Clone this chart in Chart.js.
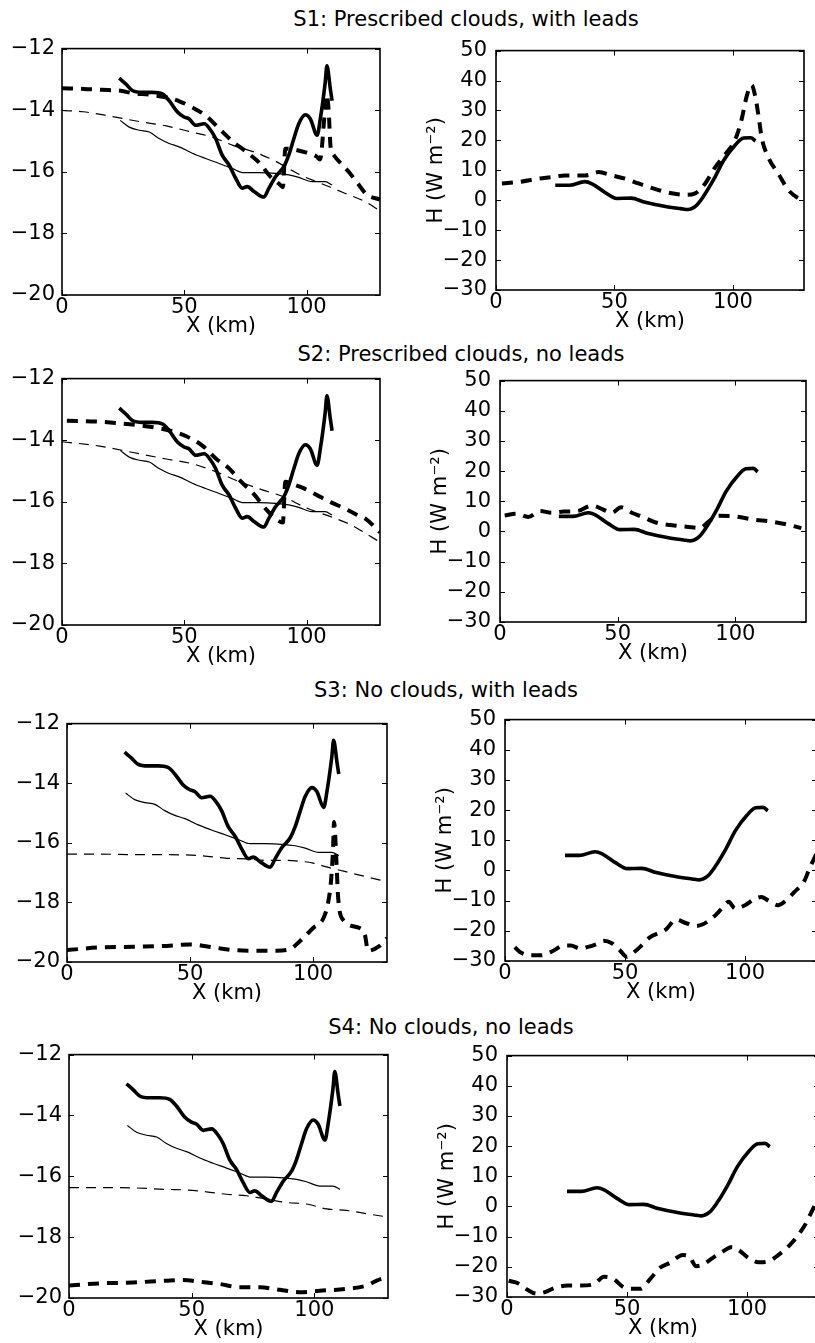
<!DOCTYPE html>
<html>
<head>
<meta charset="utf-8">
<script src="https://cdn.jsdelivr.net/npm/chart.js@4/dist/chart.umd.min.js"></script>
<style>
html,body{margin:0;padding:0;background:#fff;width:815px;height:1343px;overflow:hidden;position:relative;}
canvas{position:absolute;}
.rowtitle{position:absolute;font-family:"DejaVu Sans",sans-serif;font-size:21px;line-height:21px;color:#000;white-space:nowrap;transform:translateX(-50%);}
</style>
</head>
<body>
<div class="rowtitle" style="left:466px;top:9px">S1: Prescribed clouds, with leads</div>
<div class="rowtitle" style="left:461px;top:344px">S2: Prescribed clouds, no leads</div>
<div class="rowtitle" style="left:446px;top:680px">S3: No clouds, with leads</div>
<div class="rowtitle" style="left:451px;top:1017px">S4: No clouds, no leads</div>
<script>
// ---------- tick labels ----------
const xTicks = [0, 50, 100];
const tTicks = [-20, -18, -16, -14, -12];
const hTicks = [-30, -20, -10, 0, 10, 20, 30, 40, 50];

// ---------- temperature panels (left) ----------
// observed (thick solid), same in all scenarios
const obsTx = [23.4, 26.1, 28.8, 32.9, 37.0, 41.0, 43.8, 47.2, 49.9, 51.9, 54.7, 58.1, 60.8, 62.8, 65.5, 68.3, 71.0, 73.7, 75.7, 78.5, 82.5, 84.6, 87.3, 90.7, 92.7, 94.8, 96.8, 99.5, 101.5, 104.3, 105.6, 107.6, 108.3, 109.7, 110.4];
const obsT  = [-12.96, -13.15, -13.36, -13.42, -13.42, -13.47, -13.69, -14.06, -14.22, -14.28, -14.49, -14.44, -14.65, -14.92, -15.46, -15.78, -16.21, -16.53, -16.48, -16.64, -16.82, -16.53, -16.16, -15.83, -15.46, -14.92, -14.44, -14.15, -14.28, -14.81, -14.28, -13.10, -12.56, -13.31, -13.69];
// thin solid, same in all scenarios
const refTx = [23.8, 27.5, 31.6, 35.7, 39.7, 43.8, 47.9, 53.3, 58.7, 64.2, 69.6, 74.3, 80.4, 87.3, 92.7, 96.8, 102.2, 107.6, 110.4];
const refT  = [-14.33, -14.55, -14.65, -14.71, -14.92, -15.08, -15.19, -15.40, -15.57, -15.73, -15.89, -16.03, -16.03, -16.05, -16.10, -16.18, -16.32, -16.32, -16.43];

// S1 thick dashed / thin dashed
const s1Tx = [0, 9, 16, 24, 29, 36, 43, 48, 53.5, 59, 64.4, 70, 75.3, 80.8, 85, 89, 90.3, 91.3, 95, 100, 104, 105.5, 107.3, 108.2, 109, 109.8, 111, 117.6, 121.7, 124.4, 130];
const s1T  = [-13.29, -13.31, -13.34, -13.37, -13.45, -13.5, -13.59, -13.71, -13.92, -14.19, -14.61, -15.03, -15.35, -15.72, -16.14, -16.41, -16.5, -15.25, -15.28, -15.38, -15.5, -15.6, -14.2, -13.5, -14.0, -15.2, -15.45, -16.04, -16.46, -16.73, -16.9];
const s1T2x = [0, 8.6, 19.5, 31.7, 42.6, 53.5, 61.7, 69.9, 79.4, 87.6, 97.1, 105.3, 114.9, 124.4, 130];
const s1T2  = [-14.01, -14.05, -14.19, -14.37, -14.51, -14.72, -14.88, -15.14, -15.38, -15.67, -16.09, -16.36, -16.67, -16.99, -17.27];

// S2
const s2Tx = [2, 15.4, 23.6, 31.7, 42.6, 50.8, 57.6, 63.1, 68.5, 72.6, 78.1, 83.5, 87.6, 90.3, 91.3, 95, 98.5, 104.6, 110, 115.6, 120.3, 124.4, 130];
const s2T  = [-13.37, -13.40, -13.45, -13.52, -13.66, -13.87, -14.19, -14.61, -14.93, -15.30, -15.72, -16.25, -16.57, -16.67, -15.35, -15.45, -15.55, -15.8, -16.02, -16.22, -16.41, -16.57, -16.99];
const s2T2x = [0, 15.4, 29, 42.6, 53.5, 63.1, 72.6, 82.2, 90.3, 99.9, 110.8, 118.9, 124.4, 130];
const s2T2  = [-14.05, -14.19, -14.40, -14.61, -14.77, -15.03, -15.35, -15.62, -15.83, -16.2, -16.51, -16.78, -17.04, -17.31];

// S3
const s3Tx = [0, 13.5, 27.0, 40.5, 50.0, 59.5, 67.6, 75.7, 85.1, 90.5, 94.6, 100.0, 104.1, 106.1, 107.4, 108.1, 108.5, 109.5, 110.1, 112.2, 118.9, 121.0, 122.3, 127.0, 130];
const s3T  = [-19.6, -19.51, -19.49, -19.46, -19.41, -19.51, -19.6, -19.62, -19.62, -19.57, -19.3, -18.86, -18.54, -18.0, -17.14, -16.16, -15.3, -16.7, -17.78, -18.59, -18.86, -19.08, -19.62, -19.46, -19.2];
const s3T2x = [0, 13.5, 27.0, 40.5, 54.1, 64.9, 73.0, 81.1, 89.2, 94.6, 100.0, 105.4, 110.8, 116.2, 121.6, 130];
const s3T2  = [-16.38, -16.38, -16.40, -16.40, -16.43, -16.52, -16.54, -16.59, -16.59, -16.62, -16.68, -16.81, -16.92, -17.03, -17.14, -17.31];

// S4
const s4Tx = [0, 12.5, 26.1, 39.7, 46.5, 53.3, 61.4, 69.6, 77.8, 85.9, 94.1, 102.2, 113.1, 121.3, 125.4, 130];
const s4T  = [-19.59, -19.52, -19.49, -19.43, -19.41, -19.47, -19.54, -19.65, -19.65, -19.73, -19.81, -19.76, -19.70, -19.59, -19.43, -19.3];
const s4T2x = [0, 12.5, 26.1, 39.7, 47.9, 56.0, 64.2, 72.4, 80.5, 88.6, 96.8, 104.9, 113.1, 121.3, 130];
const s4T2  = [-16.37, -16.37, -16.38, -16.43, -16.45, -16.51, -16.59, -16.64, -16.75, -16.86, -16.91, -17.07, -17.12, -17.23, -17.34];

// ---------- heat flux panels (right) ----------
const obsHx = [25, 31, 37.5, 40.5, 46, 51, 57, 63, 71, 78, 81, 84.5, 87.5, 92, 96, 100.8, 104.5, 107.5, 109.5];
const obsH  = [5.0, 5.0, 6.2, 5.5, 2.6, 0.6, 0.7, -0.7, -2.0, -2.8, -3.1, -1.8, 1.2, 7.1, 13.2, 18.3, 20.8, 20.9, 19.8];

const s1Hx = [2.5, 9.6, 18.0, 23.6, 29.2, 37.7, 43.3, 48.9, 54.5, 60.2, 68.6, 74.2, 79.8, 84.0, 88.3, 92.5, 96.7, 100.9, 103.7, 105.8, 107.9, 109.3, 110.8, 112.2, 115.0, 119.2, 123.4, 127.6, 129.7];
const s1H  = [5.6, 6.1, 7.2, 7.7, 8.3, 8.3, 9.4, 8.3, 7.2, 5.6, 3.4, 2.3, 1.8, 2.3, 5.6, 11.0, 15.3, 20.1, 27.1, 34.7, 38.5, 35.2, 28.2, 20.7, 14.2, 8.8, 3.4, 0.7, 0.2];
const s2Hx = [2, 7, 12, 17, 22, 27, 33, 39, 44, 47.5, 51.5, 56, 60, 67, 74, 80, 85, 89, 93, 100, 108, 115, 122, 128];
const s2H  = [5.3, 5.9, 4.8, 6.8, 6.2, 6.6, 6.8, 8.6, 7.2, 6.2, 8.0, 6.2, 5.0, 2.8, 2.0, 1.5, 1.2, 3.5, 5.2, 5.0, 3.9, 3.3, 2.3, 1.1];
const s3Hx = [4.1, 6.2, 11.0, 15.1, 19.2, 24.7, 27.4, 31.5, 34.2, 38.4, 41.1, 44.5, 47.9, 50.7, 53.4, 56.2, 60.3, 64.4, 67.1, 71.2, 75.3, 79.5, 82.2, 86.3, 90.4, 93.2, 95.9, 100.0, 104.1, 106.8, 109.6, 113.7, 116.4, 120.5, 124.7, 126.7, 130];
const s3H  = [-25.4, -27.0, -28.1, -28.1, -27.0, -24.9, -24.9, -25.9, -25.4, -24.3, -23.3, -24.1, -26.5, -28.6, -27.3, -25.4, -22.2, -20.6, -19.5, -16.3, -17.4, -18.4, -17.9, -15.8, -12.6, -10.4, -12.6, -11.5, -9.4, -8.8, -9.9, -11.5, -10.4, -7.2, -3.5, 0.3, 6];
const s4Hx = [0.7, 4.8, 8.9, 12.3, 15.8, 19.9, 25.3, 30.8, 36.3, 40.4, 44.5, 48.6, 52.7, 55.5, 59.6, 63.7, 67.8, 73.3, 76.0, 78.8, 81.5, 85.6, 89.7, 93.8, 96.6, 100.7, 104.8, 108.9, 113.0, 117.1, 121.2, 124.7, 126.7, 130];
const s4H  = [-24.6, -25.5, -27.8, -28.9, -28.4, -27.0, -26.2, -26.2, -25.7, -23.3, -24.1, -26.8, -27.3, -27.3, -24.1, -20.3, -18.7, -16.1, -16.6, -19.8, -19.3, -17.1, -15.0, -13.4, -14.5, -17.1, -18.5, -18.2, -16.1, -13.4, -9.6, -5.4, -2.1, 3];

// ---------- layout (plot frame rectangles, px) ----------
const layoutBoxes = [
  {kind:'T', l:62,  t:43,   r:380, b:295},
  {kind:'H', l:496, t:43,   r:804, b:290},
  {kind:'T', l:62,  t:373,  r:380, b:625},
  {kind:'H', l:500, t:373,  r:806, b:622},
  {kind:'T', l:67,  t:718,  r:387, b:962},
  {kind:'H', l:505, t:712,  r:817, b:961},
  {kind:'T', l:69,  t:1049, r:388, b:1298},
  {kind:'H', l:507, t:1048, r:819, b:1297}
];

const FONT = {family:'"DejaVu Sans", sans-serif', size:21, lineHeight:1.2};
Chart.defaults.font.family = FONT.family;
Chart.defaults.color = '#000';

const pts = (xs, ys) => xs.map((x, i) => ({x: x, y: ys[i]}));
const fmt = v => (v < 0 ? '\u2212' + Math.abs(v) : String(v));

const framePlugin = {
  id: 'frame',
  afterDatasetsDraw(chart) {
    const {ctx, chartArea: a, scales} = chart;
    ctx.save();
    ctx.strokeStyle = '#000';
    ctx.lineWidth = 1;
    const tl = 5;
    ctx.beginPath();
    scales.x.ticks.forEach(t => {
      const p = Math.round(scales.x.getPixelForValue(t.value)) + 0.5;
      ctx.moveTo(p, a.bottom); ctx.lineTo(p, a.bottom - tl);
      ctx.moveTo(p, a.top); ctx.lineTo(p, a.top + tl);
    });
    scales.y.ticks.forEach(t => {
      const p = Math.round(scales.y.getPixelForValue(t.value)) + 0.5;
      ctx.moveTo(a.left, p); ctx.lineTo(a.left + tl, p);
      ctx.moveTo(a.right, p); ctx.lineTo(a.right - tl, p);
    });
    ctx.stroke();
    ctx.lineWidth = 1.6;
    ctx.strokeRect(a.left, a.top, a.right - a.left, a.bottom - a.top);
    ctx.restore();
  }
};

const thickSolid = (d) => ({data: d, borderColor:'#000', borderWidth:3.6, borderJoinStyle:'round', cubicInterpolationMode:'monotone', pointRadius:0});
const thinSolid  = (d) => ({data: d, borderColor:'#000', borderWidth:1.2, cubicInterpolationMode:'monotone', pointRadius:0});
const thickDash  = (d) => ({data: d, borderColor:'#000', borderWidth:4, borderDash:[11, 8], cubicInterpolationMode:'monotone', pointRadius:0});
const thinDash   = (d) => ({data: d, borderColor:'#000', borderWidth:1.2, borderDash:[10, 7], cubicInterpolationMode:'monotone', pointRadius:0});

const tModels = [[s1Tx, s1T, s1T2x, s1T2], [s2Tx, s2T, s2T2x, s2T2], [s3Tx, s3T, s3T2x, s3T2], [s4Tx, s4T, s4T2x, s4T2]];
const hModels = [[s1Hx, s1H], [s2Hx, s2H], [s3Hx, s3H], [s4Hx, s4H]];

const PAD_T = 14, XH = 48;
layoutBoxes.forEach((bx, i) => {
  const row = Math.floor(i / 2);
  const isT = bx.kind === 'T';
  const YW = isT ? 60 : 76;
  const PAD_R = isT ? 10 : 4;
  const cv = document.createElement('canvas');
  const w = YW + (bx.r - bx.l) + PAD_R;
  const h = PAD_T + (bx.b - bx.t) + XH;
  cv.width = w; cv.height = h;
  cv.style.left = (bx.l - YW) + 'px';
  cv.style.top = (bx.t - PAD_T) + 'px';
  cv.style.width = w + 'px'; cv.style.height = h + 'px';
  document.body.appendChild(cv);

  let datasets;
  if (isT) {
    const m = tModels[row];
    datasets = [thickSolid(pts(obsTx, obsT)), thinSolid(pts(refTx, refT)), thickDash(pts(m[0], m[1])), thinDash(pts(m[2], m[3]))];
  } else {
    const m = hModels[row];
    datasets = [thickSolid(pts(obsHx, obsH)), thickDash(pts(m[0], m[1]))];
  }
  const yTickList = isT ? tTicks : hTicks;

  new Chart(cv, {
    type: 'line',
    data: {datasets},
    options: {
      responsive: false, animation: false, devicePixelRatio: 1,
      layout: {padding: {left: 0, top: PAD_T, right: PAD_R, bottom: 0}},
      plugins: {legend: {display: false}, tooltip: {enabled: false}, title: {display: false}},
      scales: {
        x: {
          type: 'linear', min: 0, max: 130,
          afterBuildTicks: s => { s.ticks = xTicks.map(v => ({value: v})); },
          afterFit: s => { s.height = XH; },
          grid: {display: false, drawTicks: false}, border: {display: false},
          ticks: {padding: 0, autoSkip: false, maxRotation: 0, color: '#000', font: FONT, callback: fmt},
          title: {display: true, text: 'X (km)', color: '#000', font: FONT, padding: {top: 0, bottom: 4}}
        },
        y: {
          type: 'linear', min: yTickList[0], max: yTickList[yTickList.length - 1],
          afterBuildTicks: s => { s.ticks = yTickList.map(v => ({value: v})); },
          afterFit: s => { s.width = YW; },
          grid: {display: false, drawTicks: false}, border: {display: false},
          ticks: {padding: isT ? 7 : 9, autoSkip: false, color: '#000', font: FONT, callback: fmt},
          title: {display: !isT, text: 'H (W m\u207B\u00B2)', color: '#000', font: FONT, padding: {top: 4, bottom: 0}}
        }
      }
    },
    plugins: [framePlugin]
  });
});
</script>
</body>
</html>
